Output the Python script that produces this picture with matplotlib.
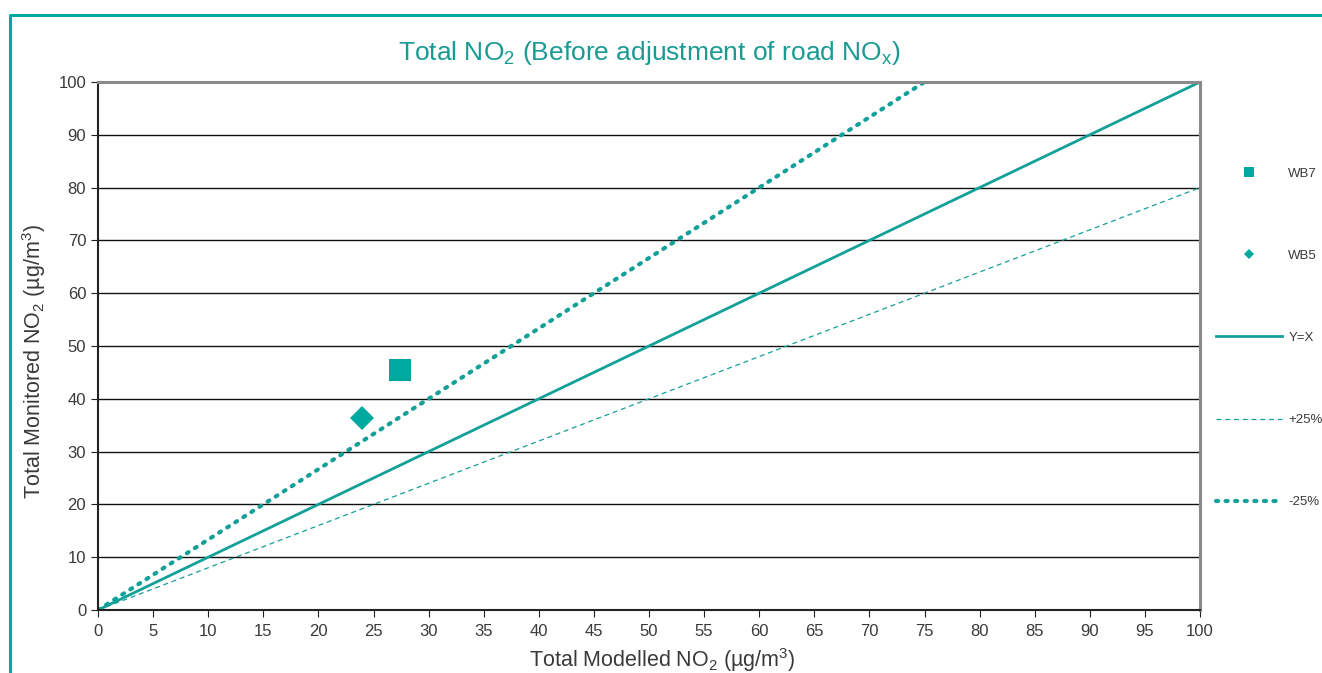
import matplotlib
matplotlib.use('Agg')
import matplotlib.pyplot as plt
from matplotlib.lines import Line2D
import numpy as np

plt.rcParams['font.family'] = ['Liberation Sans', 'DejaVu Sans']
plt.rcParams['mathtext.default'] = 'regular'

TEAL = '#00a99f'
TEAL_LINE = '#13a099'
TEXT = '#3a3a3a'

# monitoring sites: modelled vs monitored NO2
sites = ['WB7', 'WB5']
modelled = [27.4, 24.0]
monitored = [45.5, 36.3]
markers = ['s', 'D']
marker_sizes = [16, 12]

# reference lines y = k * x
ref_x = np.array([0, 100])
ref_labels = ['Y=X', '+25%', '-25%']
ref_slopes = [1.0, 0.8, 4 / 3]

fig = plt.figure(figsize=(13.22, 6.73), dpi=100)
ax = fig.add_axes([98 / 1322, 1 - 610 / 673, 1102 / 1322, 528 / 673])

handles = []
for name, x, y, m, ms in zip(sites, modelled, monitored, markers, marker_sizes):
    h, = ax.plot([x], [y], linestyle='none', marker=m, markersize=ms,
                 color=TEAL, markeredgewidth=0, label=name, zorder=4)
    handles.append(h)

h, = ax.plot(ref_x, ref_slopes[0] * ref_x, '-', color=TEAL_LINE, lw=2, label=ref_labels[0])
handles.append(h)
h, = ax.plot(ref_x, ref_slopes[1] * ref_x, '--', color=TEAL_LINE, lw=0.9,
             dashes=(4, 3), label=ref_labels[1])
handles.append(h)
h, = ax.plot(ref_x, ref_slopes[2] * ref_x, ':', color=TEAL_LINE, lw=3,
             dashes=(0.5, 1.8), dash_capstyle='round', label=ref_labels[2])
handles.append(h)

ax.set_xlim(0, 100)
ax.set_ylim(0, 100)
ax.set_xticks(np.arange(0, 101, 5))
ax.set_yticks(np.arange(0, 101, 10))
ax.tick_params(axis='both', labelsize=12, labelcolor=TEXT, direction='out',
               length=5, color='#222222')
ax.tick_params(axis='x', pad=5)
ax.grid(axis='y', color='#111111', lw=1)
ax.set_axisbelow(True)

ax.spines['left'].set_color('#222222')
ax.spines['left'].set_linewidth(1.5)
ax.spines['bottom'].set_color('#222222')
ax.spines['bottom'].set_linewidth(1.5)
ax.spines['top'].set_color('#8a8a8a')
ax.spines['top'].set_linewidth(2.2)
ax.spines['right'].set_color('#8a8a8a')
ax.spines['right'].set_linewidth(2.2)

ax.set_xlabel('Total Modelled NO$_2$ (µg/m$^3$)', fontsize=15.5, color=TEXT)
ax.set_ylabel('Total Monitored NO$_2$ (µg/m$^3$)', fontsize=15.5, color=TEXT)
ax.xaxis.set_label_coords(0.512, -0.068)
ax.yaxis.set_label_coords(-0.045, 0.47)
ax.set_title('Total NO$_2$ (Before adjustment of road NO$_x$)', fontsize=19,
             color='#1a9a93', pad=16)

leg = ax.legend(handles=handles, loc='upper left', bbox_to_anchor=(1.0, 0.868),
                frameon=False, fontsize=9.5, labelspacing=5.3, handlelength=5.0,
                handletextpad=0.5, borderaxespad=0.8, labelcolor=TEXT)
leg.legend_handles[0].set_markersize(6.5)
leg.legend_handles[1].set_markersize(5)

# teal frame around the figure
x0 = 9.5 / 1322
y0 = 1 - 14.5 / 673
fig.add_artist(Line2D([x0, x0, 1.0], [0.0, y0, y0], color=TEAL, lw=2.2,
                      transform=fig.transFigure))

fig.savefig('out.png', dpi=100)
plt.close(fig)
